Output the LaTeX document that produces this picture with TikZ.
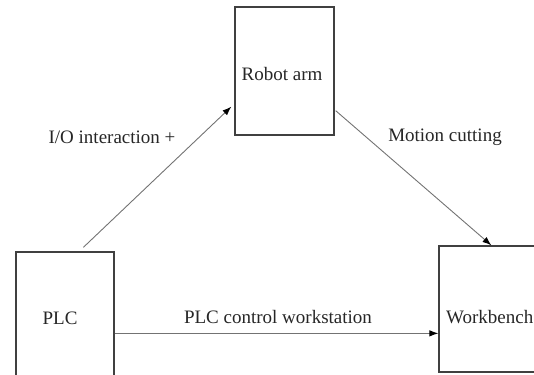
\documentclass[tikz,border=0pt]{standalone}
\usepackage{fontspec}
\setmainfont{Liberation Serif}
\newfontfamily\tnrfont{Liberation Serif}
\usetikzlibrary{arrows.meta,calc}
\begin{document}
\begin{tikzpicture}[x=1pt,y=-1pt,
  boxnode/.style={draw=black!75,line width=1.3pt,inner sep=0pt},
  txt/.style={font=\tnrfont\fontsize{19}{22}\selectfont,text=black!85,inner sep=0pt},
  arr/.style={draw=black!55,line width=0.9pt,-{Latex[length=9pt,width=6.5pt,color=black]}}]
\useasboundingbox (0,0) rectangle (534,374);
\node[boxnode,minimum width=99pt,minimum height=128pt] (robot) at (284.5,71) {};
\node[boxnode,minimum width=98pt,minimum height=150pt] (plc) at (65,327) {};
\node[boxnode,minimum width=110pt,minimum height=126pt] (wb) at (494,309) {};
\node[txt] (robott) at (282,74) {Robot arm};
\node[txt] (plct) at (60,318) {PLC};
\node[txt,anchor=west] (wbt) at (446,317) {Workbench};
\node[txt] (io) at (112,137) {I/O interaction +};
\node[txt] (mc) at (445,137) {Motion cutting};
\node[txt] (pcw) at (278,317) {PLC control workstation};
\draw[arr] ($(plc.north west)+(68,-4)$) -- ($(robot.south west)+(-3,-29)$);
\draw[arr] ($(robot.south east)+(1,-25)$) -- ($(wb.north west)+(53,0)$);
\draw[arr] ($(plc.north east)+(0,82)$) -- ($(wb.north west)+(0,88)$);
\end{tikzpicture}
\end{document}
